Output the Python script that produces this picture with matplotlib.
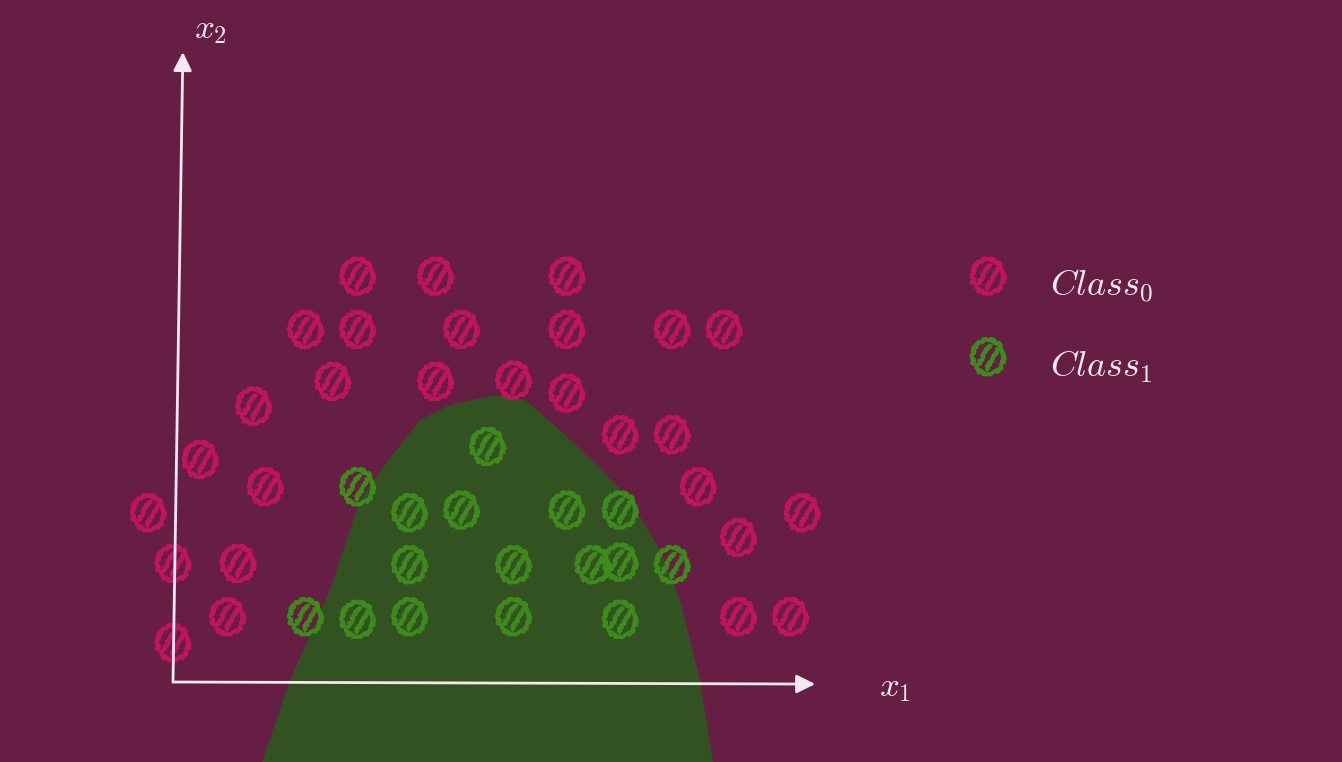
import numpy as np
import matplotlib.pyplot as plt
from matplotlib.patches import Polygon
from matplotlib.path import Path

plt.rcParams["mathtext.fontset"] = "cm"

# units: 1 = one half grid step of the sketch
class0_x = [7.1, 10.1, 15.15, 5.1, 7.1, 11.1, 15.15, 19.2, 21.2, 6.15, 10.1, 13.1, 15.15,
            3.1, 17.2, 19.2, 1.05, 3.55, 20.2, -0.95, 24.2, 21.75, 0.0, 2.5, 2.1, 21.75, 23.75, 0.0]
class0_y = [15.6, 15.6, 15.6, 13.55, 13.55, 13.55, 13.55, 13.55, 13.55, 11.55, 11.55, 11.6, 11.1,
            10.6, 9.5, 9.5, 8.55, 7.5, 7.5, 6.5, 6.5, 5.55, 4.55, 4.55, 2.5, 2.5, 2.5, 1.5]

class1_x = [12.1, 7.1, 9.1, 11.1, 15.15, 17.2, 9.1, 13.1, 16.15, 17.2, 19.2, 5.1, 7.1, 9.1, 13.1, 17.2]
class1_y = [9.05, 7.5, 6.5, 6.6, 6.6, 6.6, 4.5, 4.5, 4.5, 4.6, 4.5, 2.5, 2.4, 2.5, 2.5, 2.4]

# decision region outline (class 1)
region_x = [3.42, 4.5, 6.04, 7.19, 8.15, 9.5, 10.65, 12.38, 13.54, 14.88, 16.42, 17.58, 18.73, 19.5, 20.27, 20.77]
region_y = [-3.08, 0.08, 3.54, 7.0, 8.35, 10.08, 10.65, 11.04, 10.85, 9.69, 8.23, 7.0, 5.08, 3.15, 0.08, -3.08]

BG = "#661e44"
REGION = "#325321"
PINK = "#c0155c"
GREEN = "#3e8a1c"
AXIS = "#f6e8f0"


def hatched_circle():
    # circle outline + two diagonal strokes, like a pencil-filled dot
    circ = Path.unit_circle()
    verts = list(circ.vertices * [1.0, 1.1])
    codes = list(circ.codes)
    ang = np.deg2rad(60)
    u = np.array([np.cos(ang), np.sin(ang)])
    n = np.array([-np.sin(ang), np.cos(ang)])
    for d in (-0.3, 0.3):
        c = d * n
        half = np.sqrt(1 - d ** 2) * 0.85
        verts += [c - half * u, c + half * u]
        codes += [Path.MOVETO, Path.LINETO]
    return Path(verts, codes)


MARKER = hatched_circle()

fig = plt.figure(figsize=(13.42, 7.62), dpi=100, facecolor=BG)
ax = fig.add_axes([0, 0, 1, 1])
ax.set_facecolor(BG)
ax.set_xlim(-173 / 26, (1342 - 173) / 26)
ax.set_ylim((682 - 762) / 26, 682 / 26)
ax.axis("off")

ax.add_patch(Polygon(np.column_stack([region_x, region_y]), closed=True,
                     facecolor=REGION, edgecolor="none", zorder=1))


def sketchy(x, y, color):
    for s, lw in ((620, 2.6), (560, 1.6)):
        sc = ax.scatter(x, y, s=s, marker=MARKER, facecolors="none", edgecolors=color,
                        linewidths=lw, zorder=3)
        sc.set_sketch_params(scale=1.4, length=7, randomness=6)


sketchy(class0_x, class0_y, PINK)
sketchy(class1_x, class1_y, GREEN)

# axes arrows
ax.annotate("", xy=(24.7, -0.08), xytext=(0, 0),
            arrowprops=dict(arrowstyle="-|>", color=AXIS, lw=2, mutation_scale=28,
                            shrinkA=0, shrinkB=0), zorder=4)
ax.annotate("", xy=(0.38, 24.23), xytext=(0, 0),
            arrowprops=dict(arrowstyle="-|>", color=AXIS, lw=2, mutation_scale=28,
                            shrinkA=0, shrinkB=0), zorder=4)
ax.text(27.75, -0.2, r"$x_1$", color=AXIS, fontsize=25, ha="center", va="center")
ax.text(1.45, 25.1, r"$x_2$", color=AXIS, fontsize=25, ha="center", va="center")

# legend
sketchy([31.35], [15.6], PINK)
sketchy([31.35], [12.5], GREEN)
ax.text(33.75, 15.2, r"$Class_0$", color=AXIS, fontsize=26, ha="left", va="center")
ax.text(33.75, 12.1, r"$Class_1$", color=AXIS, fontsize=26, ha="left", va="center")

fig.savefig("out.png", dpi=100, facecolor=BG)
